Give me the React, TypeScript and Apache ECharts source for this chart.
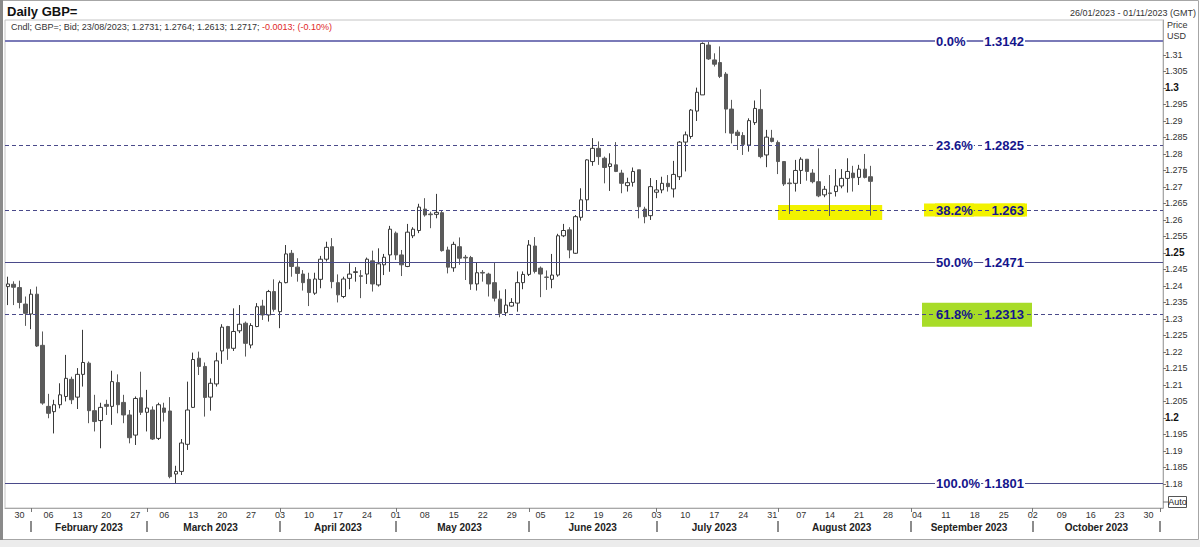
import React, { useEffect, useRef } from 'react';
import * as echarts from 'echarts';

// ---------- data ----------
const START_DATE = '2023-01-26';
const END_DATE = '2023-11-01';

// daily candles 26 Jan 2023 -> 23 Aug 2023 (weekdays)
const OPEN = [
  1.2398, 1.2405, 1.2395, 1.2345, 1.2315, 1.2375, 1.2220, 1.2035, 1.2019, 1.2040,
  1.2065, 1.2117, 1.2063, 1.2132, 1.2166, 1.2022, 1.1992, 1.2041, 1.2035, 1.2107,
  1.2047, 1.2009, 1.1948, 1.2061, 1.2017, 1.2024, 1.1938, 1.2030, 1.2021, 1.1830,
  1.1838, 1.1920, 1.2032, 1.2181, 1.2156, 1.2063, 1.2103, 1.2203, 1.2277, 1.2211,
  1.2264, 1.2287, 1.2221, 1.2277, 1.2339, 1.2312, 1.2383, 1.2322, 1.2410, 1.2499,
  1.2457, 1.2436, 1.2420, 1.2378, 1.2420, 1.2481, 1.2519, 1.2410, 1.2368, 1.2423,
  1.2441, 1.2431, 1.2436, 1.2476, 1.2403, 1.2464, 1.2494, 1.2560, 1.2494, 1.2459,
  1.2552, 1.2568, 1.2633, 1.2618, 1.2617, 1.2622, 1.2509, 1.2455, 1.2519, 1.2487,
  1.2486, 1.2406, 1.2441, 1.2436, 1.2410, 1.2360, 1.2319, 1.2339, 1.2348, 1.2410,
  1.2435, 1.2521, 1.2454, 1.2427, 1.2420, 1.2433, 1.2552, 1.2570, 1.2499, 1.2608,
  1.2661, 1.2777, 1.2817, 1.2787, 1.2762, 1.2767, 1.2742, 1.2704, 1.2714, 1.2752,
  1.2633, 1.2613, 1.2684, 1.2691, 1.2711, 1.2694, 1.2731, 1.2836, 1.2853, 1.2930,
  1.2979, 1.3130, 1.3085, 1.3077, 1.3042, 1.2936, 1.2866, 1.2856, 1.2827, 1.2895,
  1.2935, 1.2797, 1.2848, 1.2835, 1.2777, 1.2712, 1.2711, 1.2750, 1.2784, 1.2742,
  1.2716, 1.2676, 1.2682, 1.2686, 1.2703, 1.2726, 1.2742, 1.2729, 1.2754, 1.2731,
];
const CLOSE = [
  1.2406, 1.2396, 1.2350, 1.2317, 1.2375, 1.2218, 1.2045, 1.2014, 1.2040, 1.2070,
  1.2120, 1.2055, 1.2132, 1.2168, 1.2022, 1.1989, 1.2032, 1.2035, 1.2110, 1.2040,
  1.2009, 1.1940, 1.2059, 1.2017, 1.2030, 1.1936, 1.2040, 1.2017, 1.1822, 1.1838,
  1.1924, 1.2024, 1.2177, 1.2156, 1.2062, 1.2105, 1.2173, 1.2275, 1.2211, 1.2262,
  1.2284, 1.2226, 1.2280, 1.2337, 1.2312, 1.2383, 1.2329, 1.2410, 1.2497, 1.2459,
  1.2438, 1.2410, 1.2380, 1.2421, 1.2481, 1.2517, 1.2413, 1.2373, 1.2421, 1.2436,
  1.2443, 1.2429, 1.2481, 1.2406, 1.2467, 1.2487, 1.2572, 1.2494, 1.2464, 1.2563,
  1.2572, 1.2639, 1.2615, 1.2616, 1.2623, 1.2507, 1.2457, 1.2526, 1.2484, 1.2485,
  1.2406, 1.2440, 1.2439, 1.2406, 1.2363, 1.2317, 1.2342, 1.2350, 1.2410, 1.2435,
  1.2524, 1.2444, 1.2436, 1.2426, 1.2433, 1.2552, 1.2568, 1.2509, 1.2610, 1.2661,
  1.2782, 1.2817, 1.2792, 1.2759, 1.2770, 1.2747, 1.2711, 1.2713, 1.2747, 1.2640,
  1.2610, 1.2701, 1.2691, 1.2711, 1.2701, 1.2738, 1.2836, 1.2858, 1.2933, 1.2987,
  1.3135, 1.3088, 1.3072, 1.3035, 1.2936, 1.2863, 1.2856, 1.2829, 1.2901, 1.2938,
  1.2792, 1.2851, 1.2838, 1.2777, 1.2709, 1.2710, 1.2750, 1.2784, 1.2747, 1.2716,
  1.2673, 1.2693, 1.2680, 1.2703, 1.2726, 1.2747, 1.2728, 1.2754, 1.2729, 1.2717,
];
const LOW = [
  1.2342, 1.2342, 1.2332, 1.2279, 1.2269, 1.2215, 1.2040, 1.1999, 1.1953, 1.2029,
  1.2050, 1.2042, 1.2027, 1.2095, 1.1984, 1.1959, 1.1908, 1.2009, 1.1979, 1.2014,
  1.1984, 1.1923, 1.1918, 1.2009, 1.1959, 1.1933, 1.1933, 1.1989, 1.1817, 1.1801,
  1.1827, 1.1903, 1.2030, 1.2130, 1.2004, 1.2022, 1.2095, 1.2164, 1.2176, 1.2203,
  1.2257, 1.2186, 1.2211, 1.2275, 1.2297, 1.2292, 1.2322, 1.2272, 1.2408, 1.2428,
  1.2413, 1.2386, 1.2339, 1.2373, 1.2393, 1.2474, 1.2393, 1.2350, 1.2363, 1.2390,
  1.2413, 1.2363, 1.2406, 1.2383, 1.2398, 1.2433, 1.2443, 1.2479, 1.2430, 1.2457,
  1.2545, 1.2560, 1.2610, 1.2575, 1.2605, 1.2504, 1.2438, 1.2443, 1.2464, 1.2418,
  1.2388, 1.2386, 1.2413, 1.2368, 1.2353, 1.2305, 1.2309, 1.2337, 1.2322, 1.2390,
  1.2430, 1.2438, 1.2366, 1.2388, 1.2393, 1.2428, 1.2548, 1.2484, 1.2497, 1.2598,
  1.2628, 1.2764, 1.2767, 1.2711, 1.2688, 1.2745, 1.2681, 1.2686, 1.2701, 1.2605,
  1.2590, 1.2600, 1.2666, 1.2681, 1.2686, 1.2668, 1.2721, 1.2747, 1.2846, 1.2900,
  1.2979, 1.3085, 1.3065, 1.3030, 1.2863, 1.2832, 1.2812, 1.2797, 1.2807, 1.2888,
  1.2787, 1.2760, 1.2835, 1.2739, 1.2703, 1.2618, 1.2686, 1.2709, 1.2719, 1.2711,
  1.2669, 1.2669, 1.2612, 1.2671, 1.2696, 1.2683, 1.2686, 1.2706, 1.2726, 1.2613,
];
const HIGH = [
  1.2428, 1.2414, 1.2416, 1.2368, 1.2390, 1.2398, 1.2262, 1.2073, 1.2055, 1.2105,
  1.2191, 1.2125, 1.2151, 1.2267, 1.2171, 1.2070, 1.2046, 1.2055, 1.2143, 1.2132,
  1.2070, 1.2024, 1.2065, 1.2140, 1.2085, 1.2035, 1.2046, 1.2046, 1.2063, 1.1855,
  1.1936, 1.2110, 1.2198, 1.2201, 1.2168, 1.2120, 1.2198, 1.2284, 1.2279, 1.2332,
  1.2342, 1.2292, 1.2287, 1.2348, 1.2358, 1.2388, 1.2420, 1.2416, 1.2524, 1.2509,
  1.2484, 1.2448, 1.2440, 1.2440, 1.2491, 1.2534, 1.2545, 1.2435, 1.2428, 1.2469,
  1.2457, 1.2448, 1.2486, 1.2507, 1.2514, 1.2497, 1.2582, 1.2565, 1.2509, 1.2588,
  1.2578, 1.2649, 1.2666, 1.2625, 1.2679, 1.2628, 1.2519, 1.2534, 1.2547, 1.2494,
  1.2491, 1.2471, 1.2448, 1.2440, 1.2471, 1.2386, 1.2390, 1.2363, 1.2444, 1.2444,
  1.2539, 1.2548, 1.2459, 1.2447, 1.2497, 1.2558, 1.2588, 1.2578, 1.2615, 1.2696,
  1.2784, 1.2848, 1.2838, 1.2792, 1.2802, 1.2836, 1.2752, 1.2728, 1.2759, 1.2752,
  1.2640, 1.2727, 1.2721, 1.2731, 1.2736, 1.2779, 1.2839, 1.2868, 1.2936, 1.3001,
  1.3138, 1.3142, 1.3105, 1.3126, 1.3048, 1.2964, 1.2873, 1.2866, 1.2908, 1.2962,
  1.2996, 1.2873, 1.2873, 1.2841, 1.2777, 1.2726, 1.2782, 1.2790, 1.2784, 1.2754,
  1.2817, 1.2703, 1.2736, 1.2754, 1.2754, 1.2787, 1.2764, 1.2767, 1.2800, 1.2764,
];

const Y_TICKS = [
  1.18, 1.185, 1.19, 1.195, 1.2, 1.205, 1.21, 1.215, 1.22, 1.225, 1.23, 1.235, 1.24,
  1.245, 1.25, 1.255, 1.26, 1.265, 1.27, 1.275, 1.28, 1.285, 1.29, 1.295, 1.3, 1.305, 1.31,
];
const Y_BOLD = [1.2, 1.25, 1.3];

const FIB_PCT = ['0.0%', '23.6%', '38.2%', '50.0%', '61.8%', '100.0%'];
const FIB_VAL = [1.3142, 1.2825, 1.263, 1.2471, 1.2313, 1.1801];
const FIB_DASHED = [false, true, true, false, true, false];

const LAST_PRICE = 1.2717;
const HEADER_MAIN = 'Cndl; GBP=; Bid; 23/08/2023; 1.2731; 1.2764; 1.2613; 1.2717; ';
const HEADER_CHANGE = '-0.0013; (-0.10%)';
const TITLE = 'Daily GBP=';
const DATE_RANGE = '26/01/2023 - 01/11/2023 (GMT)';

const HIGHLIGHT_X = ['2023-08-01', '2023-08-25'];
const HIGHLIGHT_Y = [1.2645, 1.26];

const MONTH_NAMES = [
  'January', 'February', 'March', 'April', 'May', 'June', 'July',
  'August', 'September', 'October', 'November', 'December',
];

// ---------- layout ----------
const Y_MIN = 1.1727;
const Y_MAX = 1.3206;
const FONT = 'Arial, "Liberation Sans", sans-serif';
const FIB_COLOR = '#15158c';

function weekdays(start: string, end: string): string[] {
  const out: string[] = [];
  const d = new Date(start + 'T00:00:00Z');
  const e = new Date(end + 'T00:00:00Z');
  while (d <= e) {
    const wd = d.getUTCDay();
    if (wd !== 0 && wd !== 6) out.push(d.toISOString().slice(0, 10));
    d.setUTCDate(d.getUTCDate() + 1);
  }
  return out;
}

export default function App() {
  const ref = useRef<HTMLDivElement>(null);

  useEffect(() => {
    document.body.style.margin = '0';
    if (!ref.current) return;
    const chart = echarts.init(ref.current, null, { renderer: 'svg' });

    const cats = weekdays(START_DATE, END_DATE);
    const isMonday = cats.map((c) => new Date(c + 'T00:00:00Z').getUTCDay() === 1);
    const monthStart = cats.map((c, i) => i > 0 && c.slice(0, 7) !== cats[i - 1].slice(0, 7));
    const midSet = new Set<number>();
    let gStart = 0;
    for (let i = 1; i <= cats.length; i++) {
      if (i === cats.length || monthStart[i]) {
        const last = i - 1;
        if (monthStart[gStart] && last - gStart + 1 >= 15) {
          midSet.add(Math.round((gStart + last) / 2));
        }
        gStart = i;
      }
    }
    const monthLabel = (v: string) =>
      MONTH_NAMES[parseInt(v.slice(5, 7), 10) - 1] + ' ' + v.slice(0, 4);

    const candles = OPEN.map((o, i) => [o, CLOSE[i], LOW[i], HIGH[i]]);

    const fibLines = FIB_VAL.map((v, i) => ({
      yAxis: v,
      label: { show: false },
      lineStyle: {
        color: i === 0 ? '#7a7ab8' : '#4a4a8a',
        width: i === 0 ? 2 : 1,
        type: FIB_DASHED[i] ? [4, 3] : 'solid',
      },
    }));

    const option: any = {
      animation: false,
      backgroundColor: '#ffffff',
      textStyle: { fontFamily: FONT },
      grid: {
        left: 5,
        right: 37,
        top: 20,
        bottom: 39,
        show: true,
        borderColor: '#c4c4c4',
        borderWidth: 1,
        backgroundColor: 'transparent',
      },
      xAxis: [
        {
          type: 'category',
          data: cats,
          boundaryGap: true,
          axisLine: { show: true, lineStyle: { color: '#a8a8a8' } },
          axisTick: {
            show: true,
            interval: (i: number) => monthStart[i],
            alignWithLabel: true,
            length: 4,
            lineStyle: { color: '#777' },
          },
          axisLabel: {
            interval: (i: number) => isMonday[i],
            formatter: (v: string) => v.slice(8, 10),
            fontSize: 9,
            color: '#333',
            margin: 2,
            fontFamily: FONT,
          },
          splitLine: { show: false },
        },
        {
          type: 'category',
          data: cats,
          position: 'bottom',
          offset: 13,
          axisLine: { show: false },
          axisTick: {
            show: true,
            interval: (i: number) => monthStart[i],
            alignWithLabel: true,
            length: 11,
            lineStyle: { color: '#666', width: 1.5 },
          },
          axisLabel: {
            interval: (i: number) => midSet.has(i),
            formatter: (v: string) => monthLabel(v),
            fontSize: 10,
            fontWeight: 'bold',
            color: '#222',
            margin: 1,
            fontFamily: FONT,
          },
          splitLine: { show: false },
        },
      ],
      yAxis: {
        type: 'value',
        position: 'right',
        min: Y_MIN,
        max: Y_MAX,
        axisLine: { show: true, lineStyle: { color: '#a8a8a8' } },
        axisTick: {
          show: true,
          customValues: Y_TICKS,
          length: 3,
          lineStyle: { color: '#777' },
        },
        axisLabel: {
          customValues: Y_TICKS,
          margin: 2,
          fontSize: 9,
          color: '#333',
          fontFamily: FONT,
          formatter: (v: number) => {
            const n = Number(v.toFixed(3));
            const s = String(n);
            return Y_BOLD.includes(n) ? `{b|${s}}` : s;
          },
          rich: { b: { fontWeight: 'bold', fontSize: 10, color: '#111', fontFamily: FONT } },
        },
        splitLine: { show: false },
      },
      series: [
        {
          type: 'candlestick',
          data: candles,
          barWidth: 4,
          itemStyle: {
            color: '#ffffff',
            color0: '#5a5a5a',
            borderColor: '#3a3a3a',
            borderColor0: '#5a5a5a',
            borderWidth: 1,
          },
          markArea: {
            silent: true,
            itemStyle: { color: '#f2f200' },
            data: [
              [
                { xAxis: HIGHLIGHT_X[0], yAxis: HIGHLIGHT_Y[0] },
                { xAxis: HIGHLIGHT_X[1], yAxis: HIGHLIGHT_Y[1] },
              ],
            ],
          },
          markLine: {
            silent: true,
            precision: 4,
            symbol: ['none', 'none'],
            data: [
              ...fibLines,
              {
                yAxis: LAST_PRICE,
                lineStyle: { opacity: 0 },
                label: {
                  show: true,
                  position: 'end',
                  distance: 1,
                  formatter: String(LAST_PRICE),
                  backgroundColor: '#000',
                  color: '#fff',
                  fontWeight: 'bold',
                  fontSize: 9,
                  fontFamily: FONT,
                  padding: [1, 3, 0, 2],
                },
              },
            ],
          },
        },
      ],
    };

    chart.setOption(option);

    const py = (v: number) => chart.convertToPixel({ yAxisIndex: 0 }, v) as number;

    const graphics: any[] = [];
    // frame
    graphics.push(
      { type: 'rect', z: 0, shape: { x: 0.5, y: 0.5, width: 1198, height: 539 }, style: { fill: 'none', stroke: '#a6a6a6', lineWidth: 1 } },
      { type: 'rect', z: 0, shape: { x: 0, y: 0, width: 3, height: 540 }, style: { fill: '#8a8a8a' } },
      { type: 'rect', z: 0, shape: { x: 0, y: 540, width: 1200, height: 7 }, style: { fill: '#ececec' } },
    );
    // titles
    graphics.push(
      { type: 'text', z: 10, x: 7, y: 11, style: { text: TITLE, font: `bold 13px ${FONT}`, fill: '#111', verticalAlign: 'middle' } },
      {
        type: 'text', z: 10, x: 11, y: 27,
        style: {
          text: `{n|${HEADER_MAIN}}{r|${HEADER_CHANGE}}`,
          font: `9px ${FONT}`,
          verticalAlign: 'middle',
          rich: {
            n: { fill: '#333', color: '#333', fontSize: 9, fontFamily: FONT },
            r: { fill: '#e02828', color: '#e02828', fontSize: 9, fontFamily: FONT },
          },
        },
      },
      { type: 'text', z: 10, x: 1196, y: 13, style: { text: DATE_RANGE, font: `9px ${FONT}`, fill: '#333', align: 'right', verticalAlign: 'middle' } },
      { type: 'text', z: 10, x: 1167, y: 25, style: { text: 'Price', font: `9px ${FONT}`, fill: '#333', verticalAlign: 'middle' } },
      { type: 'text', z: 10, x: 1167, y: 36, style: { text: 'USD', font: `9px ${FONT}`, fill: '#333', verticalAlign: 'middle' } },
      { type: 'line', z: 10, shape: { x1: 1163, y1: 502, x2: 1168, y2: 502 }, style: { stroke: '#777', lineWidth: 1 } },
      { type: 'rect', z: 10, shape: { x: 1168.5, y: 496.5, width: 18, height: 11 }, style: { fill: '#fff', stroke: '#555', lineWidth: 1 } },
      { type: 'text', z: 11, x: 1177.5, y: 502, style: { text: 'Auto', font: `9px ${FONT}`, fill: '#222', align: 'center', verticalAlign: 'middle' } },
    );
    // fib labels
    FIB_VAL.forEach((v, i) => {
      const y = py(v);
      let bg = '#ffffff';
      if (i === 2) {
        bg = '#f2f200';
        graphics.push({ type: 'rect', z: 1, shape: { x: 924, y: y - 6.5, width: 103, height: 13 }, style: { fill: bg } });
      } else if (i === 4) {
        bg = '#a8dc28';
        graphics.push({ type: 'rect', z: 1, shape: { x: 922, y: y - 12, width: 110, height: 24 }, style: { fill: bg } });
      }
      graphics.push(
        { type: 'text', z: 12, x: 935, y, style: { text: FIB_PCT[i], font: `bold 13px ${FONT}`, fill: FIB_COLOR, align: 'left', verticalAlign: 'middle', backgroundColor: bg, padding: [0, 1] } },
        { type: 'text', z: 12, x: 1025, y, style: { text: String(v), font: `bold 13px ${FONT}`, fill: FIB_COLOR, align: 'right', verticalAlign: 'middle', backgroundColor: bg, padding: [0, 1] } },
      );
    });

    chart.setOption({ graphic: graphics });

    return () => {
      chart.dispose();
    };
  }, []);

  return <div ref={ref} style={{ width: 1200, height: 547, background: '#fff' }} />;
}
